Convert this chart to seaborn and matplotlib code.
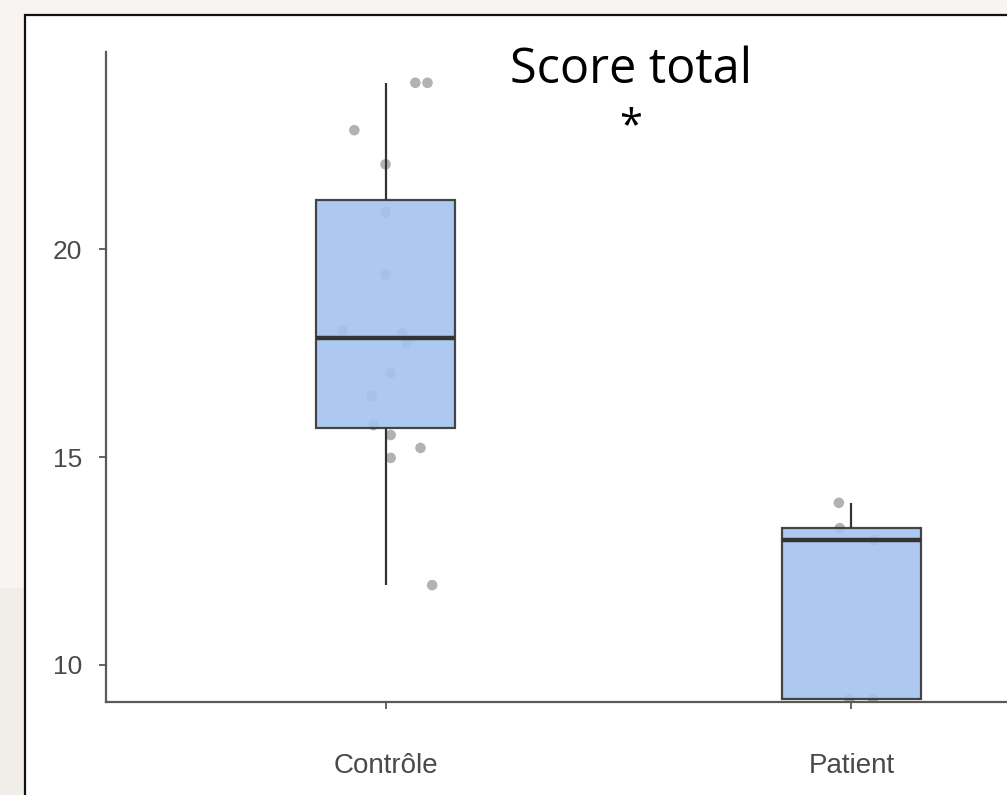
import numpy as np
import pandas as pd
import matplotlib
matplotlib.use("Agg")
import matplotlib.pyplot as plt
from matplotlib.patches import Rectangle
import seaborn as sns

# data
GROUPS = ["Contrôle", "Patient"]
controle_scores = [24.0, 24.0, 22.86, 22.04, 20.89, 19.38, 18.05, 17.98, 17.74,
                   17.02, 16.47, 15.77, 15.53, 15.22, 14.98, 11.92]
controle_jitter = [0.064, 0.090, -0.067, 0.0, 0.0, 0.0, -0.092, 0.036, 0.045,
                   0.011, -0.030, -0.026, 0.011, 0.075, 0.011, 0.100]
patient_scores = [13.9, 13.29, 13.0, 9.18, 9.18]
patient_jitter = [-0.027, -0.025, 0.050, -0.004, 0.046]
Y_TICKS = [10, 15, 20]
TITLE = "Score total"
SIG = "*"

df = pd.DataFrame({
    "groupe": [GROUPS[0]] * len(controle_scores) + [GROUPS[1]] * len(patient_scores),
    "score": controle_scores + patient_scores,
    "jitter": controle_jitter + patient_jitter,
})
df["xpos"] = df["groupe"].map({g: i for i, g in enumerate(GROUPS)}) + df["jitter"]

sns.set_style("white")
plt.rcParams["font.family"] = ["Liberation Sans", "DejaVu Sans"]

fig = plt.figure(figsize=(10.07, 7.95), dpi=100)
fig.patch.set_facecolor("#f7f4f1")
# slightly darker strip lower left of the screenshot
fig.patches.append(Rectangle((0, 0), 25 / 1007, 207 / 795, transform=fig.transFigure,
                             facecolor="#f1ede9", edgecolor="none", zorder=0))
# white panel with black frame, cropped on right/bottom
fig.patches.append(Rectangle((25 / 1007, -0.2), 1.2, 0.2 + 780 / 795, transform=fig.transFigure,
                             facecolor="white", edgecolor="#111111", linewidth=1.6, zorder=1))

ax = fig.add_axes([106 / 1007, 93 / 795, 1025 / 1007, 650 / 795])
ax.set_facecolor("none")
ax.set_zorder(2)

sns.scatterplot(data=df, x="xpos", y="score", color="#999999", alpha=0.75, s=58,
                edgecolor="none", ax=ax, zorder=2, legend=False)

sns.boxplot(data=df, x="groupe", y="score", order=GROUPS, width=0.3,
            color="#a5c3ee", saturation=1, showfliers=False, showcaps=False,
            linecolor="#333333", linewidth=1.6,
            boxprops={"alpha": 0.9, "zorder": 3},
            medianprops={"linewidth": 3.2, "color": "#333333", "zorder": 4},
            whiskerprops={"zorder": 3}, ax=ax)

ax.set_xlim(-0.6, 1.6)
ax.set_ylim(9.11, 24.74)
ax.set_yticks(Y_TICKS)
ax.set_xlabel("")
ax.set_ylabel("")
for s in ["top", "right"]:
    ax.spines[s].set_visible(False)
for s in ["left", "bottom"]:
    ax.spines[s].set_color("#5a5a5a")
    ax.spines[s].set_linewidth(1.6)
ax.tick_params(axis="both", colors="#5a5a5a", length=5, width=1.3, labelsize=19,
               labelcolor="#4a4a4a", left=True, bottom=True)
ax.tick_params(axis="y", pad=12)
ax.tick_params(axis="x", pad=32, labelsize=20)

fig.text(631 / 1007, 1 - 70 / 795, TITLE, ha="center", va="center", zorder=5,
         fontsize=35, family=["Open Sans", "DejaVu Sans"], color="black")
fig.text(631 / 1007, 1 - 127 / 795, SIG, ha="center", va="center", zorder=5,
         fontsize=30, family=["Open Sans", "DejaVu Sans"], color="black")

fig.savefig("out.png", dpi=100, facecolor=fig.get_facecolor())
